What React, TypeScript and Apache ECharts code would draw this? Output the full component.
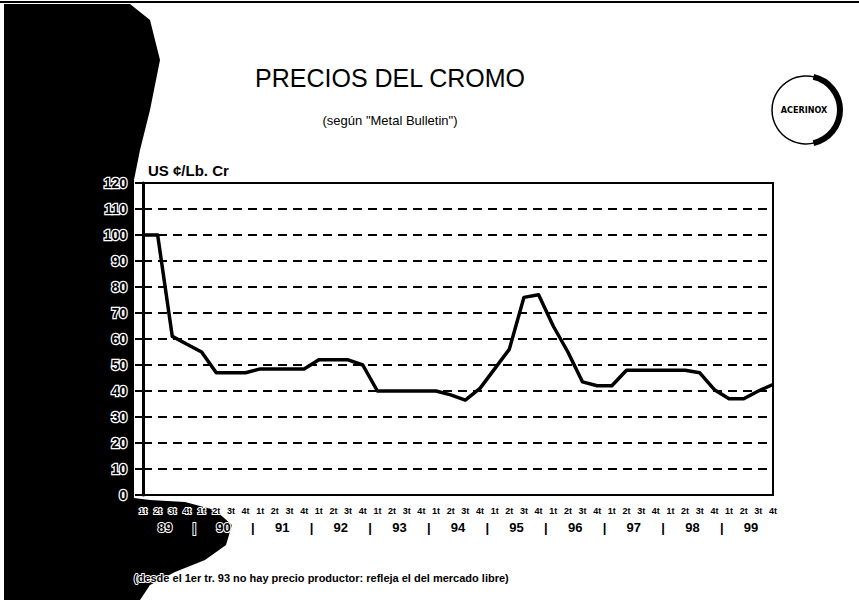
import React, { useEffect, useRef } from "react";
import * as echarts from "echarts";

// Tick labels
const quarterLabels = ["1t", "2t", "3t", "4t"];
const yearLabels = ["89", "90", "91", "92", "93", "94", "95", "96", "97", "98", "99"];
const yTicks = [0, 10, 20, 30, 40, 50, 60, 70, 80, 90, 100, 110, 120];

// Chromium price, US ¢/Lb. Cr, quarterly 1989 1t … 1999 4t
const chromePrice = [
  100, 100, 61, 58, // 89
  55, 47, 47, 47, // 90
  48.5, 48.5, 48.5, 48.5, // 91
  52, 52, 52, 50, // 92
  40, 40, 40, 40, // 93
  40, 38.5, 36.5, 41, // 94
  48.5, 56, 76, 77, // 95
  65, 55, 43.5, 42, // 96
  42, 48, 48, 48, // 97
  48, 48, 47, 40.5, // 98
  37, 37, 40, 42.5, // 99
];

const categories: string[] = [];
yearLabels.forEach(() => quarterLabels.forEach((q) => categories.push(q)));

const FONT = "Arial, 'Liberation Sans', sans-serif";

export default function App() {
  const ref = useRef<HTMLDivElement>(null);
  useEffect(() => {
    if (!ref.current) return;
    const chart = echarts.init(ref.current, undefined, { renderer: "svg" });
    const lastIdx = categories.length - 1;
    chart.setOption({
      animation: false,
      backgroundColor: "#ffffff",
      grid: {
        left: 143,
        right: 86,
        top: 183,
        bottom: 105,
        show: true,
        borderColor: "#000",
        borderWidth: 2,
        backgroundColor: "transparent",
        z: 2,
      },
      xAxis: [
        {
          type: "category",
          data: categories,
          boundaryGap: false,
          axisLine: { show: true, lineStyle: { color: "#000", width: 2 } },
          axisTick: { show: false },
          splitLine: { show: false },
          axisLabel: {
            interval: 0,
            margin: 11,
            fontFamily: FONT,
            fontWeight: "bold",
            fontSize: 9,
            color: "#000",
            textBorderColor: "#fff",
            textBorderWidth: 2,
          },
          z: 5,
        },
        {
          type: "value",
          min: 0,
          max: lastIdx,
          interval: 0.5,
          position: "bottom",
          axisLine: { show: false },
          axisTick: { show: false },
          splitLine: { show: false },
          axisLabel: {
            margin: 26,
            fontFamily: FONT,
            fontWeight: "bold",
            fontSize: 13,
            color: "#000",
            textBorderColor: "#fff",
            textBorderWidth: 2,
            showMinLabel: true,
            showMaxLabel: true,
            formatter: (v: number) => {
              const r = Math.round(v * 2) / 2;
              if ((r - 1.5) % 4 === 0) return yearLabels[(r - 1.5) / 4] || "";
              if ((r - 3.5) % 4 === 0) return "|";
              return "";
            },
          },
          z: 5,
        },
      ],
      yAxis: {
        type: "value",
        min: yTicks[0],
        max: yTicks[yTicks.length - 1],
        interval: 10,
        name: "US ¢/Lb. Cr",
        nameLocation: "end",
        nameGap: 5,
        nameTextStyle: {
          align: "left",
          padding: [0, 0, 0, 5],
          fontFamily: FONT,
          fontWeight: "bold",
          fontSize: 15,
          color: "#000",
          textBorderColor: "#fff",
          textBorderWidth: 2,
        },
        axisLine: { show: true, lineStyle: { color: "#000", width: 3 } },
        axisTick: { show: true, length: 8, lineStyle: { color: "#000", width: 2 } },
        splitLine: {
          show: true,
          lineStyle: { color: "#000", width: 2, type: [9, 6] },
        },
        axisLabel: {
          margin: 16,
          fontFamily: FONT,
          fontWeight: "bold",
          fontSize: 14,
          color: "#000",
          textBorderColor: "#fff",
          textBorderWidth: 2.5,
        },
        z: 5,
      },
      series: [
        {
          type: "line",
          data: chromePrice,
          xAxisIndex: 0,
          yAxisIndex: 0,
          showSymbol: false,
          symbol: "none",
          lineStyle: { color: "#000", width: 3.5, join: "round" },
          z: 6,
        },
      ],
      graphic: [
        {
          type: "polygon",
          z: -100,
          shape: {
            points: [
              [4, 4], [130, 4], [150, 20], [160, 60], [150, 110], [140, 150],
              [134, 180], [134, 498], [150, 500], [185, 502], [215, 510],
              [232, 525], [226, 545], [205, 560], [175, 572], [150, 585],
              [140, 600], [4, 600],
            ],
          },
          style: { fill: "#000" },
        },
        {
          type: "line",
          z: 50,
          shape: { x1: 0, y1: 2, x2: 859, y2: 2 },
          style: { stroke: "#000", lineWidth: 2 },
        },
        {
          type: "text",
          z: 50,
          x: 390,
          y: 78,
          style: {
            text: "PRECIOS DEL CROMO",
            font: `25px ${FONT}`,
            fill: "#000",
            align: "center",
            verticalAlign: "middle",
          },
        },
        {
          type: "text",
          z: 50,
          x: 390,
          y: 120,
          style: {
            text: "(según \"Metal Bulletin\")",
            font: `13px ${FONT}`,
            fill: "#000",
            align: "center",
            verticalAlign: "middle",
          },
        },
        {
          type: "circle",
          z: 50,
          shape: { cx: 806, cy: 110, r: 34 },
          style: { fill: "#fff", stroke: "#000", lineWidth: 1.5 },
        },
        {
          type: "arc",
          z: 51,
          shape: { cx: 806, cy: 110, r: 34, startAngle: -1.35, endAngle: 1.35 },
          style: { stroke: "#000", lineWidth: 6, fill: null },
        },
        {
          type: "text",
          z: 52,
          x: 804,
          y: 110,
          style: {
            text: "ACERINOX",
            font: `bold 9px 'Liberation Sans Narrow', 'DejaVu Sans Condensed', ${FONT}`,
            fill: "#000",
            align: "center",
            verticalAlign: "middle",
          },
        },
        {
          type: "text",
          z: 50,
          x: 134,
          y: 578,
          style: {
            text: "(desde el 1er tr. 93 no hay precio productor: refleja el del mercado libre)",
            font: `bold 11px ${FONT}`,
            fill: "#000",
            stroke: "#fff",
            lineWidth: 2,
            align: "left",
            verticalAlign: "middle",
          },
        },
      ],
    });
    return () => chart.dispose();
  }, []);
  return (
    <div
      ref={ref}
      style={{ position: "absolute", left: 0, top: 0, width: 859, height: 600 }}
    />
  );
}
